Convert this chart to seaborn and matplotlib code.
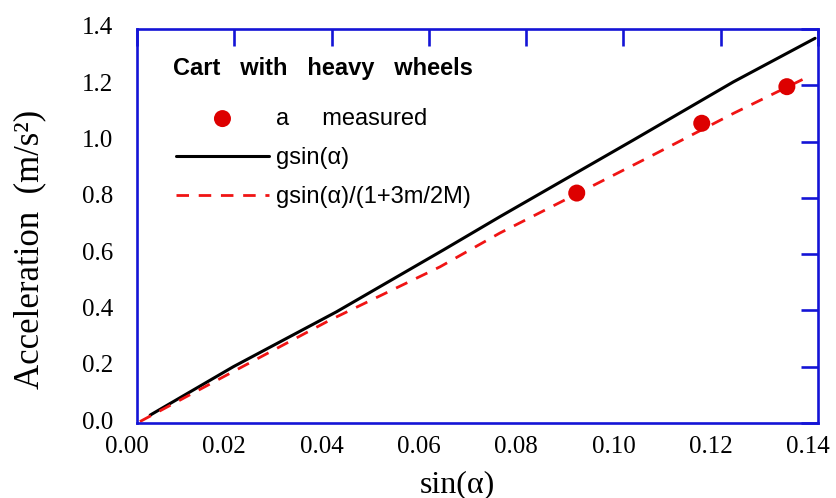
import numpy as np
import pandas as pd
import matplotlib
matplotlib.use("Agg")
import matplotlib.pyplot as plt
import seaborn as sns
from matplotlib.transforms import ScaledTranslation

# values
sin_alpha_meas = [0.0904, 0.1161, 0.1336]
a_meas = [0.817, 1.065, 1.195]

x_g = [0.0027, 0.0198, 0.041, 0.063, 0.0746, 0.102, 0.1226, 0.1394]
y_g = [0.028, 0.200, 0.395, 0.615, 0.733, 1.005, 1.212, 1.367]

x_corr = [0.0006, 0.0184, 0.0397, 0.0623, 0.0746, 0.1054, 0.1226, 0.1377]
y_corr = [0.005, 0.170, 0.366, 0.555, 0.675, 0.946, 1.100, 1.228]

x_ticks = [0.00, 0.02, 0.04, 0.06, 0.08, 0.10, 0.12, 0.14]
x_tick_labels = ["0.00", "0.02", "0.04", "0.06", "0.08", "0.10", "0.12", "0.14"]
y_ticks = [0.0, 0.2, 0.4, 0.6, 0.8, 1.0, 1.2, 1.4]
y_tick_labels = ["0.0", "0.2", "0.4", "0.6", "0.8", "1.0", "1.2", "1.4"]

BLUE = "#1414d6"
RED = "#dd0000"
DASH_RED = "#f01414"
SERIF = "Liberation Serif"
SANS = "Liberation Sans"

sns.set_theme(style="white")
plt.rcParams["font.family"] = [SERIF, "DejaVu Serif"]
plt.rcParams["text.color"] = "black"
plt.rcParams["axes.labelcolor"] = "black"

df_meas = pd.DataFrame({"x": sin_alpha_meas, "y": a_meas})
df_g = pd.DataFrame({"x": x_g, "y": y_g})
df_corr = pd.DataFrame({"x": x_corr, "y": y_corr})

fig = plt.figure(figsize=(8.37, 4.98), dpi=100)
ax = fig.add_axes([0.1637, 0.1506, 0.8136, 0.7912])

sns.lineplot(data=df_g, x="x", y="y", ax=ax, color="black", linewidth=2.2,
             label="gsin(α)")
sns.lineplot(data=df_corr, x="x", y="y", ax=ax, color=DASH_RED, linewidth=2.0,
             linestyle=(0, (4.5, 3.5)), label="gsin(α)/(1+3m/2M)")
sns.scatterplot(data=df_meas, x="x", y="y", ax=ax, color=RED, s=150,
                edgecolor="none", label="a     measured", zorder=5)

ax.set_xlim(0, 0.14)
ax.set_ylim(0, 1.4)
ax.set_xticks(x_ticks)
ax.set_xticklabels(x_tick_labels)
ax.set_yticks(y_ticks)
ax.set_yticklabels(y_tick_labels)

for sp in ax.spines.values():
    sp.set_color(BLUE)
    sp.set_linewidth(1.9)

ax.tick_params(direction="in", length=12.5, width=1.9, color=BLUE,
               labelcolor="black", labelsize=18, top=True, right=True)
ax.tick_params(axis="x", pad=9)
ax.tick_params(axis="y", pad=17)

# tick labels sit a little left / up of their ticks in the original
dx = ScaledTranslation(-0.10, 0, fig.dpi_scale_trans)
for lab in ax.get_xticklabels():
    lab.set_transform(lab.get_transform() + dx)
dy = ScaledTranslation(0, 0.03, fig.dpi_scale_trans)
for lab in ax.get_yticklabels():
    lab.set_transform(lab.get_transform() + dy)

ax.set_xlabel("sin(α)", fontsize=23)
ax.set_ylabel("Acceleration  (m/s²)", fontsize=25)
ax.xaxis.set_label_coords(0.47, -0.12)
ax.yaxis.set_label_coords(-0.133, 0.44)

ax.text(0.053, 0.883, "Cart   with   heavy   wheels", transform=ax.transAxes,
        fontsize=17, fontweight="bold", family=SANS, color="black",
        va="baseline", ha="left")

handles, labels = ax.get_legend_handles_labels()
order = [2, 0, 1]
leg = ax.legend([handles[i] for i in order], [labels[i] for i in order],
                loc="upper left", bbox_to_anchor=(0.057, 0.80), frameon=False,
                prop={"family": SANS, "size": 17}, handlelength=3.95,
                handletextpad=0.3, labelspacing=0.72, borderpad=0,
                borderaxespad=0, markerscale=1.0)
for t in leg.get_texts():
    t.set_color("black")

fig.savefig("out.png", dpi=100)
